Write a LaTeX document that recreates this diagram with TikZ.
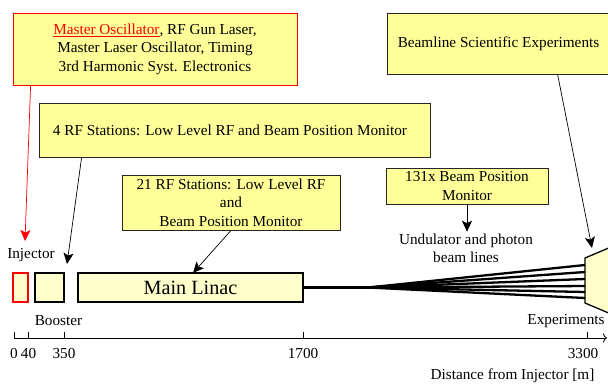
\documentclass[tikz,border=0pt]{standalone}
\usepackage{fontspec}
\setmainfont{Liberation Serif}
\usetikzlibrary{arrows.meta,calc}
\definecolor{notefill}{HTML}{FFFF99}
\definecolor{partfill}{HTML}{FFFFCC}
\begin{document}
\begin{tikzpicture}[x=1bp,y=-1bp,
  txt/.style={font=\fontsize{15.3}{18.5}\selectfont, align=center, inner sep=0pt, text=black},
  note/.style={txt, draw=black!85, line width=0.8bp, fill=notefill},
  part/.style={draw=black, line width=1.3bp, fill=partfill, inner sep=0pt},
  pointer/.style={line width=0.7bp, -{Stealth[length=11bp,width=10bp,inset=2.5bp]}},
  beam/.style={line width=2.3bp},
  tick/.style={line width=0.8bp}
]
\useasboundingbox (0,0) rectangle (608,383);

% annotation boxes
\node[note, draw=red, minimum width=284bp, minimum height=72bp] (master) at (155,49)
  {{\color{red}\underline{Master Oscillator}}, RF Gun Laser,\\Master Laser Oscillator, Timing\\3rd Harmonic Syst. Electronics};
\node[note, minimum width=223bp, minimum height=61bp] (beamline) at (498.5,43.5)
  {Beamline Scientific Experiments};
\node[note, inner xsep=14bp, minimum height=54bp] (rf4) at (234.5,130)
  {\makebox[363bp][l]{4 RF Stations: Low Level RF and Beam Position Monitor}};
\node[note, minimum width=218bp, minimum height=55bp] (rf21) at (231,202.5)
  {21 RF Stations: Low Level RF\\and\\Beam Position Monitor};
\node[note, minimum width=162bp, minimum height=36bp] (bpm) at (467,186)
  {131x Beam Position\\Monitor};

% machine parts
\node[part, draw=red, minimum width=15bp, minimum height=29bp] (inj) at (20.5,287.5) {};
\node[part, minimum width=29bp, minimum height=29bp] (boost) at (49.5,287.5) {};
\node[part, minimum width=225bp, minimum height=29bp, font=\fontsize{20.3}{24}\selectfont] (linac) at (190.5,287.5) {Main Linac};
\path[part] (585,258) -- (611,247) -- (611,314) -- (585,303) -- cycle;

% labels
\node[txt] (injlab) at (31,255) {Injector};
\node[txt] (boostlab) at (58.5,321) {Booster};
\node[txt] (explab) at (566,321) {Experiments};
\node[txt] (undlab) at (466,248.5) {Undulator and photon\\beam lines};

% beam lines
\coordinate (split) at (368,287.5);
\draw[beam] (linac.east) -- (split);
\foreach \yy in {265,272,279,286,292,298}{
  \draw[beam] (split) -- (585,\yy);
}

% pointers
\coordinate (injtip) at (25,241);
\coordinate (boosttip) at (67,264);
\coordinate (linactip) at (193,273);
\coordinate (exptip) at (592,248);
\draw[pointer, red] ($(master.south west)+(18,0)$) -- (injtip);
\draw[pointer] ($(rf4.south west)+(43,0)$) -- (boosttip);
\draw[pointer] (rf21.south) -- (linactip);
\draw[pointer] (bpm.south) -- ($(undlab.north)+(1,-2)$);
\draw[pointer] ($(beamline.south west)+(171,0)$) -- (exptip);

% axis
\coordinate (ax0) at (14,338);
\coordinate (axend) at (607,338);
\draw[line width=0.8bp, -{To[length=4bp,width=9bp]}] (ax0) -- (axend);
\foreach \xx in {14,28,64,303,587}{
  \draw[tick] (\xx,338) -- (\xx,332);
}
\node[txt] (l0) at (14,353.5) {0};
\node[txt] (l40) at (28.5,353.5) {40};
\node[txt] (l350) at (64,353.5) {350};
\node[txt] (l1700) at (303,353.5) {1700};
\node[txt] (l3300) at (583,353.5) {3300};
\node[txt] (axlab) at (512.5,376) {Distance from Injector [m]};
\end{tikzpicture}
\end{document}
